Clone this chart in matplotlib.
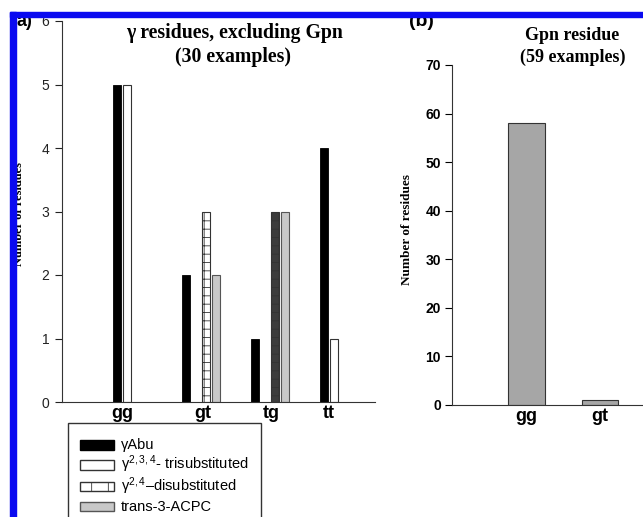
import numpy as np
import matplotlib.pyplot as plt
from matplotlib.patches import Rectangle, Patch
from matplotlib.legend_handler import HandlerPatch

plt.rcParams['font.family'] = 'Liberation Sans'
plt.rcParams['mathtext.fontset'] = 'custom'
plt.rcParams['mathtext.rm'] = 'Liberation Sans'
plt.rcParams['hatch.linewidth'] = 0.6
plt.rcParams['hatch.color'] = '#222222'

# panel (a): gamma residues, excluding Gpn
categories_a = ['gg', 'gt', 'tg', 'tt']
gabu = [5, 2, 1, 4]
trisub = [5, 0, 0, 1]
disub = [0, 3, 3, 0]
acpc = [0, 2, 3, 0]
legend_labels = ['γAbu',
                 r'$\mathregular{\gamma^{2,3,4}}$- trisubstituted',
                 r'$\mathregular{\gamma^{2,4}}$–disubstituted',
                 'trans-3-ACPC']

# panel (b): Gpn residue
categories_b = ['gg', 'gt']
gpn = [58, 1]

W, H = 643, 517
fig = plt.figure(figsize=(W / 100, H / 100), dpi=100)


def box(l, t, r, b):
    return [l / W, 1 - b / H, (r - l) / W, (b - t) / H]


ax1 = fig.add_axes(box(62, 21, 375, 402))
ax2 = fig.add_axes(box(452, 65, 643, 405))

step, width = 0.145, 0.11
di_fill = ['white', 'white', '#3c3c3c', 'white']
styles = [dict(color='black', edgecolor='black', lw=0.6),
          dict(color='white', edgecolor='#333333', lw=0.8),
          dict(edgecolor='#333333', lw=0.8, hatch='++'),
          dict(color='#c8c8c8', edgecolor='#555555', lw=0.8)]

label_pos = []
for i in range(len(categories_a)):
    xs = []
    for k, vals in enumerate([gabu, trisub, disub, acpc]):
        if vals[i] == 0:
            continue
        xpos = i + (k - 1.5) * step
        xs.append(xpos)
        st = dict(styles[k])
        if k == 2:
            st['facecolor'] = di_fill[i]
        ax1.bar(xpos, vals[i], width, **st)
    label_pos.append(np.mean(xs))

ax1.set_xlim(-1.01, 3.52)
ax1.set_ylim(0, 6)
ax1.set_yticks(range(7))
ax1.set_xticks(label_pos)
ax1.set_xticklabels(categories_a, fontsize=13, fontweight='bold')
ax1.tick_params(axis='x', length=0, pad=2)
ax1.tick_params(axis='y', direction='out', length=5, labelsize=10,
                colors='#222222', pad=4)
for s in ['top', 'right']:
    ax1.spines[s].set_visible(False)
for s in ['left', 'bottom']:
    ax1.spines[s].set_color('#333333')

ax2.bar(range(len(categories_b)), gpn, 0.5, color='#a6a6a6',
        edgecolor='#333333', lw=0.8)
ax2.set_xlim(-1.01, 1.585)
ax2.set_ylim(0, 70)
ax2.set_yticks(range(0, 71, 10))
ax2.set_xticks(range(len(categories_b)))
ax2.set_xticklabels(categories_b, fontsize=13, fontweight='bold')
ax2.tick_params(axis='x', length=0, pad=2)
ax2.tick_params(axis='y', direction='out', length=5, labelsize=10, pad=3)
for lab in ax2.get_yticklabels():
    lab.set_fontweight('bold')
for s in ['top', 'right']:
    ax2.spines[s].set_visible(False)
for s in ['left', 'bottom']:
    ax2.spines[s].set_color('#333333')

serif = dict(fontfamily='Liberation Serif', fontweight='bold')
fig.text(19.5 / W, 1 - 214 / H, 'Number of residues', rotation=90,
         ha='center', va='center', fontsize=9, **serif)
fig.text(407 / W, 1 - 230 / H, 'Number of residues', rotation=90,
         ha='center', va='center', fontsize=9.5, **serif)
fig.text(234 / W, 1 - 33 / H, 'γ residues, excluding Gpn',
         ha='center', va='center', fontsize=14.2, **serif)
fig.text(233 / W, 1 - 57 / H, '(30 examples)',
         ha='center', va='center', fontsize=14.2, **serif)
fig.text(572 / W, 1 - 35 / H, 'Gpn residue',
         ha='center', va='center', fontsize=13, **serif)
fig.text(573 / W, 1 - 57 / H, '(59 examples)',
         ha='center', va='center', fontsize=13, **serif)
fig.text(24 / W, 1 - 22 / H, 'a)', ha='center', va='center',
         fontsize=13, fontweight='bold')
fig.text(421 / W, 1 - 22 / H, '(b)', ha='center', va='center',
         fontsize=14, fontweight='bold')


def small_rect(legend, orig_handle, xdescent, ydescent, width, height, fontsize):
    return Rectangle((-xdescent, -ydescent + 0.2 * height), width, 0.56 * height)


handles = [Patch(facecolor='black', edgecolor='black'),
           Patch(facecolor='white', edgecolor='#333333'),
           Patch(facecolor='white', edgecolor='#333333', hatch='|'),
           Patch(facecolor='#c8c8c8', edgecolor='#555555')]
fig.legend(handles, legend_labels, loc='upper left',
           bbox_to_anchor=(68 / W, 1 - 423 / H), bbox_transform=fig.transFigure,
           borderaxespad=0, fancybox=False, edgecolor='#333333',
           framealpha=1, fontsize=10.5, handlelength=2.3, handleheight=1.5,
           labelspacing=0.02, borderpad=0.85, handletextpad=0.5,
           handler_map={Patch: HandlerPatch(patch_func=small_rect)})

# blue frame along the top and left edges
fig.add_artist(Rectangle((10 / W, 0), 6 / W, 1 - 12 / H,
                         transform=fig.transFigure, color='#0a0af0', zorder=10))
fig.add_artist(Rectangle((10 / W, 1 - 17 / H), 1 - 10 / W, 5 / H,
                         transform=fig.transFigure, color='#0a0af0', zorder=10))

fig.savefig('out.png', dpi=100)
